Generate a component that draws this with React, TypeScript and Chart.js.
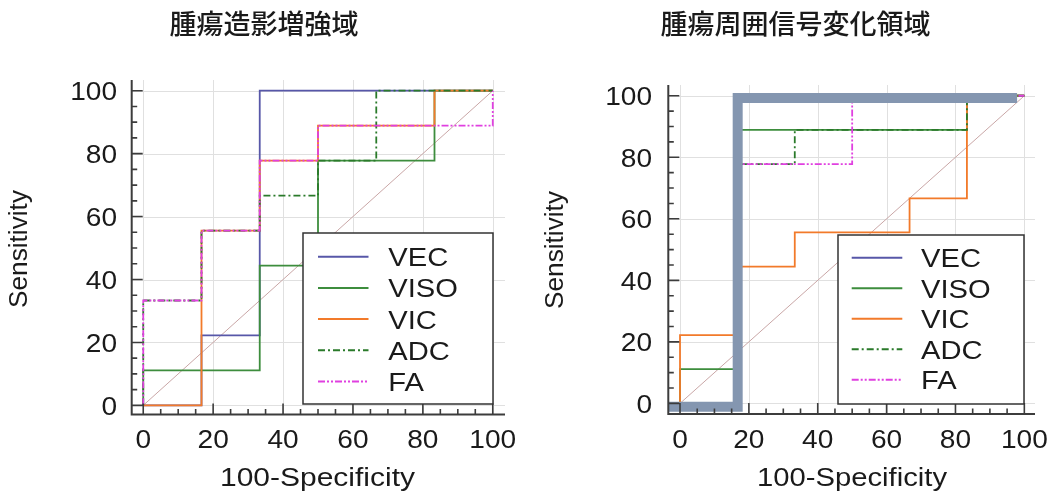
import React, { useEffect, useRef } from "react";
import { Chart, registerables } from "chart.js";
Chart.register(...registerables);

// ---------- shared styling data ----------
const seriesNames = ["VEC", "VISO", "VIC", "ADC", "FA"];
const seriesColors = ["#5757a8", "#3d8d3d", "#f27a2a", "#2a7a2a", "#e040e0"];
const seriesDashes: number[][] = [[], [], [], [7, 3, 2, 3], [7, 2, 2, 2, 2, 2]];
const majorTicks = [0, 20, 40, 60, 80, 100];
const tickLabels = ["0", "20", "40", "60", "80", "100"];
const xAxisTitle = "100-Specificity";
const yAxisTitle = "Sensitivity";
const diagX = [0, 100];
const diagY = [0, 100];

// ---------- left chart: 腫瘍造影増強域 ----------
const leftTitle = "腫瘍造影増強域";
const leftVecX = [0, 16.67, 16.67, 33.33, 33.33, 100];
const leftVecY = [0, 0, 22.22, 22.22, 100, 100];
const leftVisoX = [0, 0, 33.33, 33.33, 50, 50, 83.33, 83.33, 100];
const leftVisoY = [0, 11.11, 11.11, 44.44, 44.44, 77.78, 77.78, 100, 100];
const leftVicX = [0, 16.67, 16.67, 33.33, 33.33, 50, 50, 83.33, 83.33, 100];
const leftVicY = [0, 0, 55.56, 55.56, 77.78, 77.78, 88.89, 88.89, 100, 100];
const leftAdcX = [0, 0, 16.67, 16.67, 33.33, 33.33, 50, 50, 66.67, 66.67, 100];
const leftAdcY = [0, 33.33, 33.33, 55.56, 55.56, 66.67, 66.67, 77.78, 77.78, 100, 100];
const leftFaX = [0, 0, 16.67, 16.67, 33.33, 33.33, 50, 50, 100, 100];
const leftFaY = [0, 33.33, 33.33, 55.56, 55.56, 77.78, 77.78, 88.89, 88.89, 100];

// ---------- right chart: 腫瘍周囲信号変化領域 ----------
const rightTitle = "腫瘍周囲信号変化領域";
const rightVecX = [0, 16.67, 16.67, 100];
const rightVecY = [0, 0, 100, 100];
const rightVisoX = [0, 0, 16.67, 16.67, 83.33, 83.33, 100];
const rightVisoY = [0, 11.11, 11.11, 88.89, 88.89, 100, 100];
const rightVicX = [0, 0, 16.67, 16.67, 33.33, 33.33, 66.67, 66.67, 83.33, 83.33, 100];
const rightVicY = [0, 22.22, 22.22, 44.44, 44.44, 55.56, 55.56, 66.67, 66.67, 100, 100];
const rightAdcX = [0, 16.67, 16.67, 33.33, 33.33, 83.33, 83.33, 100];
const rightAdcY = [0, 0, 77.78, 77.78, 88.89, 88.89, 100, 100];
const rightFaX = [0, 16.67, 16.67, 50, 50, 100];
const rightFaY = [0, 0, 77.78, 77.78, 100, 100];
// thick highlight drawn over the right chart
const highlightX = [-3.4, 16.75, 16.75, 97.9];
const highlightY = [-1.1, -1.1, 99.3, 99.3];

const LATIN = '"Liberation Sans", Arial, sans-serif';
const CJK = '"Noto Sans CJK JP", "Noto Sans CJK SC", sans-serif';

const zip = (xs: number[], ys: number[]) => xs.map((x, i) => ({ x, y: ys[i] }));

function drawText(
  ctx: CanvasRenderingContext2D,
  s: string,
  x: number,
  y: number,
  font: string,
  align: CanvasTextAlign,
  sx: number,
  rot = 0,
  targetW = 0
) {
  ctx.save();
  ctx.translate(x, y);
  if (rot) ctx.rotate(rot);
  ctx.font = font;
  const w = ctx.measureText(s).width;
  const k = targetW ? targetW / w : sx;
  ctx.scale(k, 1);
  ctx.textAlign = align;
  ctx.textBaseline = "alphabetic";
  ctx.fillStyle = "#1a1a1a";
  ctx.fillText(s, 0, 0);
  ctx.restore();
}

type Layout = {
  width: number;
  left: number;
  pad: { left: number; right: number; top: number; bottom: number };
  xRange: [number, number];
  yRange: [number, number];
  titleX: number;
  titleBase: number;
  yTickRight: number;
  xTickBase: number;
  xTitleX: number;
  xTitleW: number;
  yTitleX: number;
  yTitleY: number;
  yTitleL: number;
  legBox: [number, number, number, number];
  legLine: [number, number];
  legText: number;
  legRow0: number;
  legStep: number;
};

function RocChart(props: {
  title: string;
  xs: number[][];
  ys: number[][];
  highlight?: boolean;
  L: Layout;
}) {
  const ref = useRef<HTMLCanvasElement>(null);
  const { title, xs, ys, highlight, L } = props;

  useEffect(() => {
    const canvas = ref.current!;
    const datasets: any[] = seriesNames.map((name, i) => ({
      label: name,
      data: zip(xs[i], ys[i]),
      borderColor: seriesColors[i],
      borderDash: seriesDashes[i],
      borderWidth: 1.8,
      pointRadius: 0,
      showLine: true,
      fill: false,
      tension: 0,
      order: 10 - i,
    }));
    datasets.push({
      label: "diag",
      data: zip(diagX, diagY),
      borderColor: "#c9a6a6",
      borderWidth: 1,
      pointRadius: 0,
      showLine: true,
      order: 20,
    });
    if (highlight) {
      datasets.push({
        label: "highlight",
        data: zip(highlightX, highlightY),
        borderColor: "#8496b0",
        borderWidth: 10,
        borderJoinStyle: "miter",
        borderCapStyle: "butt",
        pointRadius: 0,
        showLine: true,
        order: 0,
      });
    }

    const decor = {
      id: "rocDecor",
      beforeDatasetsDraw(chart: any) {
        const ctx: CanvasRenderingContext2D = chart.ctx;
        const a = chart.chartArea;
        const sx = chart.scales.x;
        const sy = chart.scales.y;
        ctx.save();
        ctx.strokeStyle = "#e0e0e0";
        ctx.lineWidth = 1;
        majorTicks.forEach((v) => {
          const px = Math.round(sx.getPixelForValue(v)) + 0.5;
          const py = Math.round(sy.getPixelForValue(v)) + 0.5;
          ctx.beginPath();
          ctx.moveTo(px, a.top);
          ctx.lineTo(px, a.bottom);
          ctx.moveTo(a.left, py);
          ctx.lineTo(a.right, py);
          ctx.stroke();
        });
        ctx.restore();
      },
      afterDatasetsDraw(chart: any) {
        const ctx: CanvasRenderingContext2D = chart.ctx;
        const a = chart.chartArea;
        const sx = chart.scales.x;
        const sy = chart.scales.y;
        ctx.save();
        // axes
        ctx.strokeStyle = "#3c3c3c";
        ctx.lineWidth = 2;
        ctx.beginPath();
        ctx.moveTo(a.left, a.top);
        ctx.lineTo(a.left, a.bottom);
        ctx.lineTo(a.right, a.bottom);
        ctx.stroke();
        // ticks
        ctx.lineWidth = 1.6;
        for (let v = 0; v <= 100; v += 5) {
          const len = v % 20 === 0 ? 11 : 5.5;
          const px = sx.getPixelForValue(v);
          const py = sy.getPixelForValue(v);
          ctx.beginPath();
          ctx.moveTo(px, a.bottom);
          ctx.lineTo(px, a.bottom - len);
          ctx.moveTo(a.left, py);
          ctx.lineTo(a.left + len, py);
          ctx.stroke();
        }
        // tick labels
        const tf = `26px ${LATIN}`;
        majorTicks.forEach((v, i) => {
          drawText(ctx, tickLabels[i], sx.getPixelForValue(v), L.xTickBase, tf, "center", 1.08);
          drawText(ctx, tickLabels[i], L.yTickRight, sy.getPixelForValue(v) + 9.3, tf, "right", 1.08);
        });
        // axis titles
        drawText(ctx, xAxisTitle, L.xTitleX, 486, `25px ${LATIN}`, "center", 1, 0, L.xTitleW);
        drawText(ctx, yAxisTitle, L.yTitleX, L.yTitleY, `25px ${LATIN}`, "center", 1, -Math.PI / 2, L.yTitleL);
        // chart title
        drawText(ctx, title, L.titleX, L.titleBase, `500 27px ${CJK}`, "center", 1);
        // legend
        const [bx0, by0, bx1, by1] = L.legBox;
        ctx.fillStyle = "#ffffff";
        ctx.fillRect(bx0, by0, bx1 - bx0, by1 - by0);
        ctx.strokeStyle = "#333333";
        ctx.lineWidth = 1.5;
        ctx.setLineDash([]);
        ctx.strokeRect(bx0, by0, bx1 - bx0, by1 - by0);
        seriesNames.forEach((name, i) => {
          const ry = L.legRow0 + i * L.legStep;
          ctx.save();
          ctx.strokeStyle = seriesColors[i];
          ctx.lineWidth = 2;
          ctx.setLineDash(seriesDashes[i]);
          ctx.beginPath();
          ctx.moveTo(L.legLine[0], ry);
          ctx.lineTo(L.legLine[1], ry);
          ctx.stroke();
          ctx.restore();
          drawText(ctx, name, L.legText, ry + 9.5, `26.5px ${LATIN}`, "left", 1.1);
        });
        ctx.restore();
      },
    };

    const chart = new Chart(canvas, {
      type: "scatter",
      data: { datasets },
      options: {
        responsive: false,
        devicePixelRatio: 1,
        animation: false,
        layout: { padding: L.pad },
        plugins: { legend: { display: false }, tooltip: { enabled: false } },
        scales: {
          x: { type: "linear", min: L.xRange[0], max: L.xRange[1], display: false },
          y: { type: "linear", min: L.yRange[0], max: L.yRange[1], display: false },
        },
      },
      plugins: [decor],
    } as any);
    return () => chart.destroy();
  }, []);

  return (
    <canvas
      ref={ref}
      width={L.width}
      height={492}
      style={{ position: "absolute", left: L.left, top: 0, width: L.width, height: 492 }}
    />
  );
}

const leftLayout: Layout = {
  width: 525,
  left: 0,
  pad: { left: 131.7, right: 20, top: 80, bottom: 77.5 },
  xRange: [-3.3, 103.5],
  yRange: [-2.9, 103.4],
  titleX: 264,
  titleBase: 34,
  yTickRight: 117,
  xTickBase: 448,
  xTitleX: 317.5,
  xTitleW: 195,
  yTitleX: 26.7,
  yTitleY: 249,
  yTitleL: 118,
  legBox: [303, 233, 493, 404],
  legLine: [318, 368.5],
  legText: 388.3,
  legRow0: 256.7,
  legStep: 31.2,
};

const rightLayout: Layout = {
  width: 526,
  left: 525,
  pad: { left: 143.3, right: 16, top: 85, bottom: 78 },
  xRange: [-3.4, 103.1],
  yRange: [-3.45, 103.5],
  titleX: 270.5,
  titleBase: 34,
  yTickRight: 127,
  xTickBase: 448,
  xTitleX: 327,
  xTitleW: 190,
  yTitleX: 38.3,
  yTitleY: 250,
  yTitleL: 118,
  legBox: [313, 235, 499, 404],
  legLine: [326.7, 377.3],
  legText: 396,
  legRow0: 257.8,
  legStep: 30.5,
};

export default function App() {
  return (
    <div
      style={{
        position: "absolute",
        left: 0,
        top: 0,
        width: 1051,
        height: 492,
        background: "#ffffff",
        overflow: "hidden",
      }}
    >
      <RocChart
        title={leftTitle}
        xs={[leftVecX, leftVisoX, leftVicX, leftAdcX, leftFaX]}
        ys={[leftVecY, leftVisoY, leftVicY, leftAdcY, leftFaY]}
        L={leftLayout}
      />
      <RocChart
        title={rightTitle}
        xs={[rightVecX, rightVisoX, rightVicX, rightAdcX, rightFaX]}
        ys={[rightVecY, rightVisoY, rightVicY, rightAdcY, rightFaY]}
        highlight
        L={rightLayout}
      />
    </div>
  );
}
